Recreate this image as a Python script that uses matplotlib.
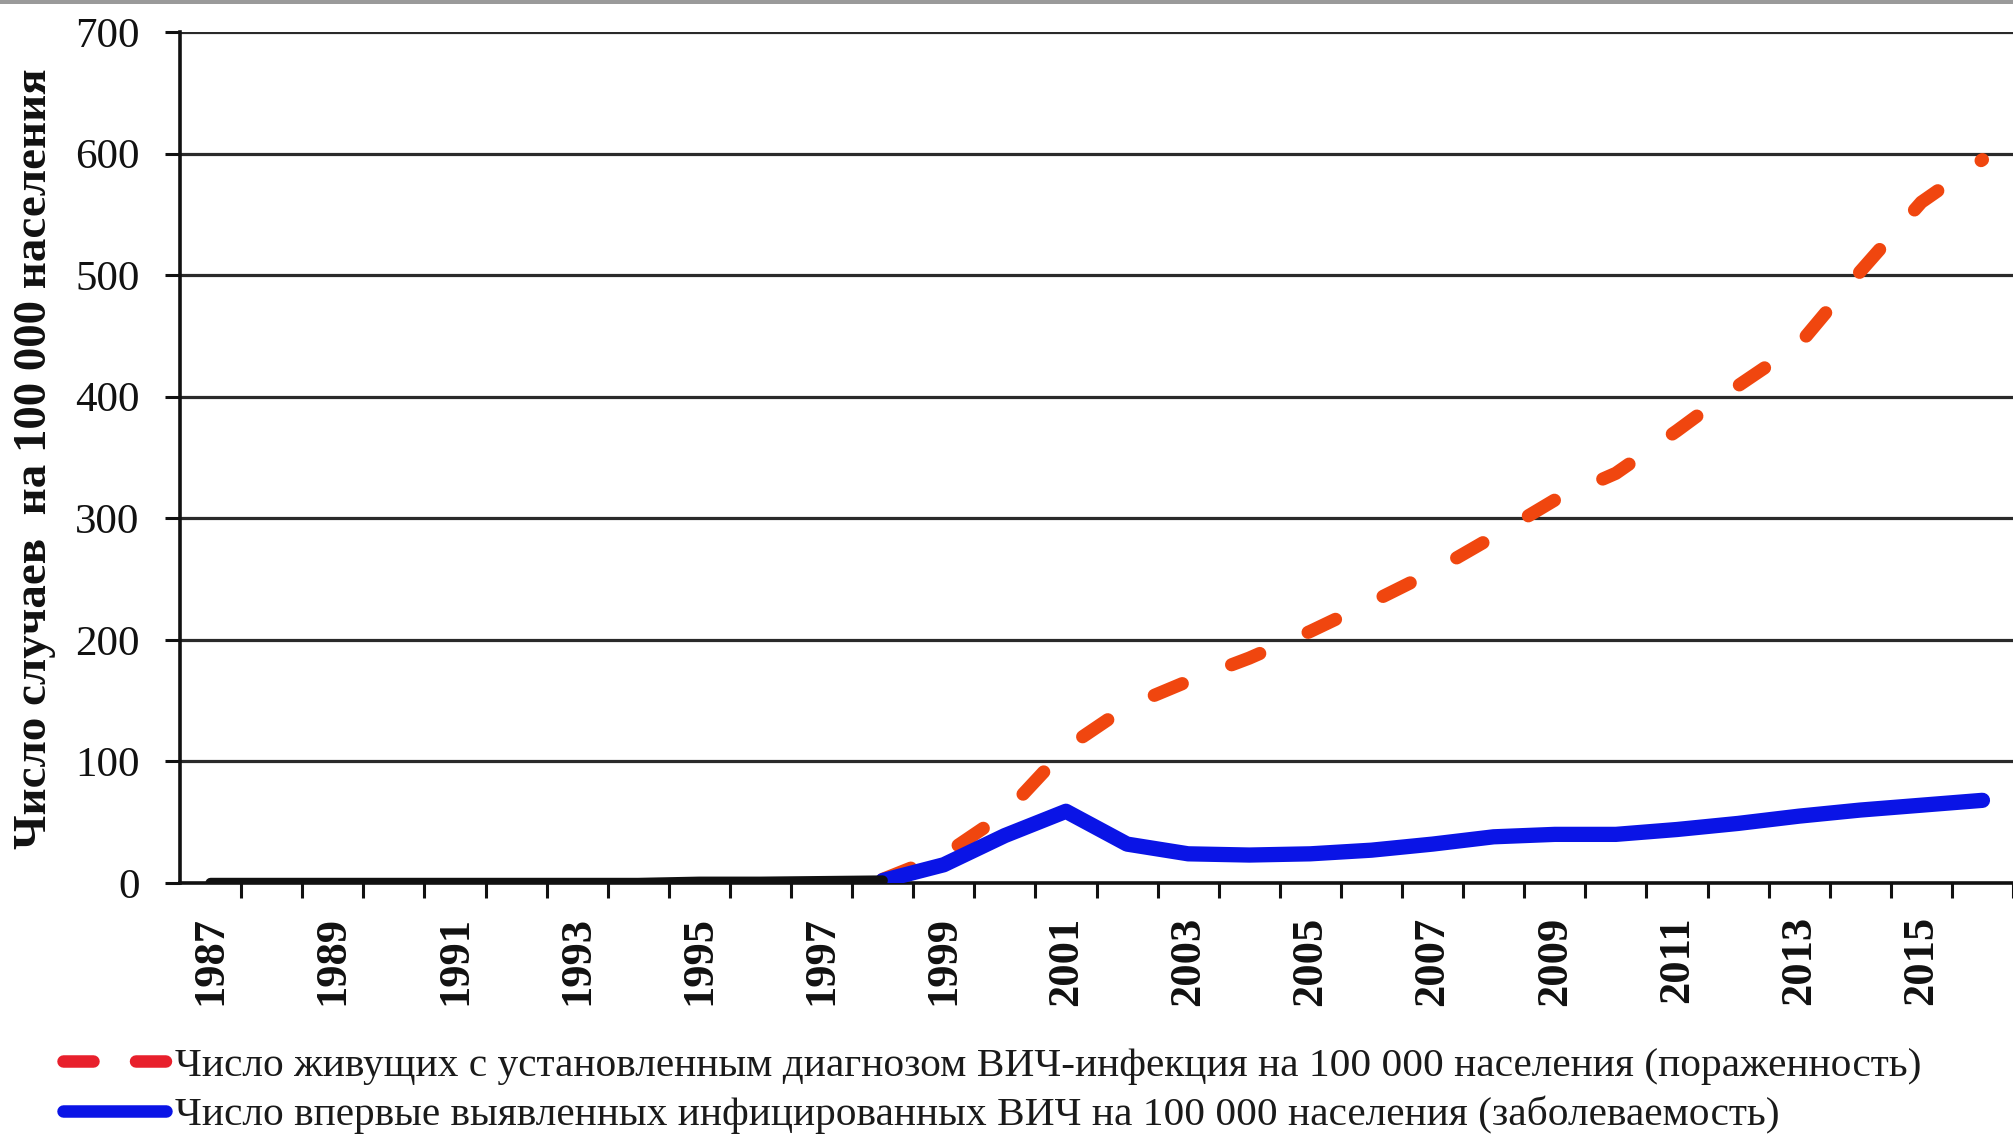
import matplotlib
matplotlib.use("Agg")
import matplotlib.pyplot as plt
from matplotlib.lines import Line2D
from matplotlib.patches import Rectangle

# early years, both series ~0 (drawn in black in the source)
early_years = list(range(1987, 1999))
early_vals = [0, 0, 0, 0, 0, 0, 0, 0, 1, 1, 1.5, 2]

late_years = list(range(1998, 2017))
prevalence = [3, 23, 57, 111, 145, 166, 185, 207, 231, 256, 285, 315, 337, 372, 409, 443, 503, 560, 595]
incidence = [2, 15, 39, 59, 32, 24, 23, 24, 27, 32, 38, 40, 40, 44, 49, 55, 60, 64, 68]

label_years = list(range(1987, 2016, 2))
y_ticks = [0, 100, 200, 300, 400, 500, 600, 700]

ylabel = "Число случаев  на 100 000 населения"
leg_prev = "Число живущих с установленным диагнозом ВИЧ-инфекция на 100 000 населения (пораженность)"
leg_inc = "Число впервые выявленных инфицированных ВИЧ на 100 000 населения (заболеваемость)"

plt.rcParams['font.family'] = ['Liberation Serif', 'DejaVu Serif']

W, H = 2013, 1139
fig = plt.figure(figsize=(W / 100, H / 100), dpi=100)
ax = fig.add_axes([180 / W, 1 - 883 / H, 1833 / W, 851 / H])

red = '#f0460f'
blue = '#0a14e6'

ax.plot(late_years, prevalence, color=red, lw=9.5, dashes=(2.3, 4.0),
        dash_capstyle='round', zorder=3)
ax.plot(late_years, incidence, color=blue, lw=11, solid_capstyle='round', zorder=4)
ax.plot(early_years, early_vals, color='#111111', lw=7.5, solid_capstyle='round', zorder=5)

ax.set_xlim(1986.5, 1986.5 + 1833 / 61.2)
ax.set_ylim(0, 700)

for v in y_ticks[1:]:
    ax.axhline(v, color='#2a2a2a', lw=2.3, zorder=1)

for s in ['top', 'right']:
    ax.spines[s].set_visible(False)
ax.spines['left'].set_linewidth(2.6)
ax.spines['bottom'].set_linewidth(2.6)
ax.spines['left'].set_color('#111111')
ax.spines['bottom'].set_color('#111111')
ax.spines['bottom'].set_zorder(2)

ax.set_yticks(y_ticks)
ax.set_yticklabels([str(v) for v in y_ticks])
ax.tick_params(axis='y', length=11, width=2.2, pad=18, labelsize=31, colors='#111111')

ax.set_xticks([y + 0.5 for y in range(1987, 2017)])
ax.set_xticklabels([])
ax.tick_params(axis='x', which='major', length=11, width=2.2, direction='out', colors='#111111')
ax.set_xticks(label_years, minor=True)
ax.set_xticklabels([str(y) for y in label_years], minor=True, rotation=90,
                   fontweight='bold', fontsize=32)
ax.tick_params(axis='x', which='minor', length=0, pad=24, labelcolor='#111111')

fig.text(35 / W, 1 - 459 / H, ylabel, rotation=90, ha='center', va='center',
         fontsize=33.8, fontweight='bold', color='#111111')

handles = [Line2D([], [], color='#e8202c', lw=9, dashes=(2.4, 3.4), dash_capstyle='round'),
           Line2D([], [], color=blue, lw=9, solid_capstyle='round')]
fig.legend(handles, [leg_prev, leg_inc], loc='upper left',
           bbox_to_anchor=(63 / W, 1 - 1047 / H), bbox_transform=fig.transFigure,
           frameon=False, fontsize=29.8, handlelength=2.5, handletextpad=0.2,
           labelspacing=0.26, borderpad=0, borderaxespad=0, labelcolor='#1a1a1a')

# grey strip along the top edge of the scan
fig.add_artist(Rectangle((0, 1 - 4 / H), 1, 4 / H, transform=fig.transFigure,
                         color='#9a9a9a', lw=0))

fig.savefig('out.png', dpi=100)
